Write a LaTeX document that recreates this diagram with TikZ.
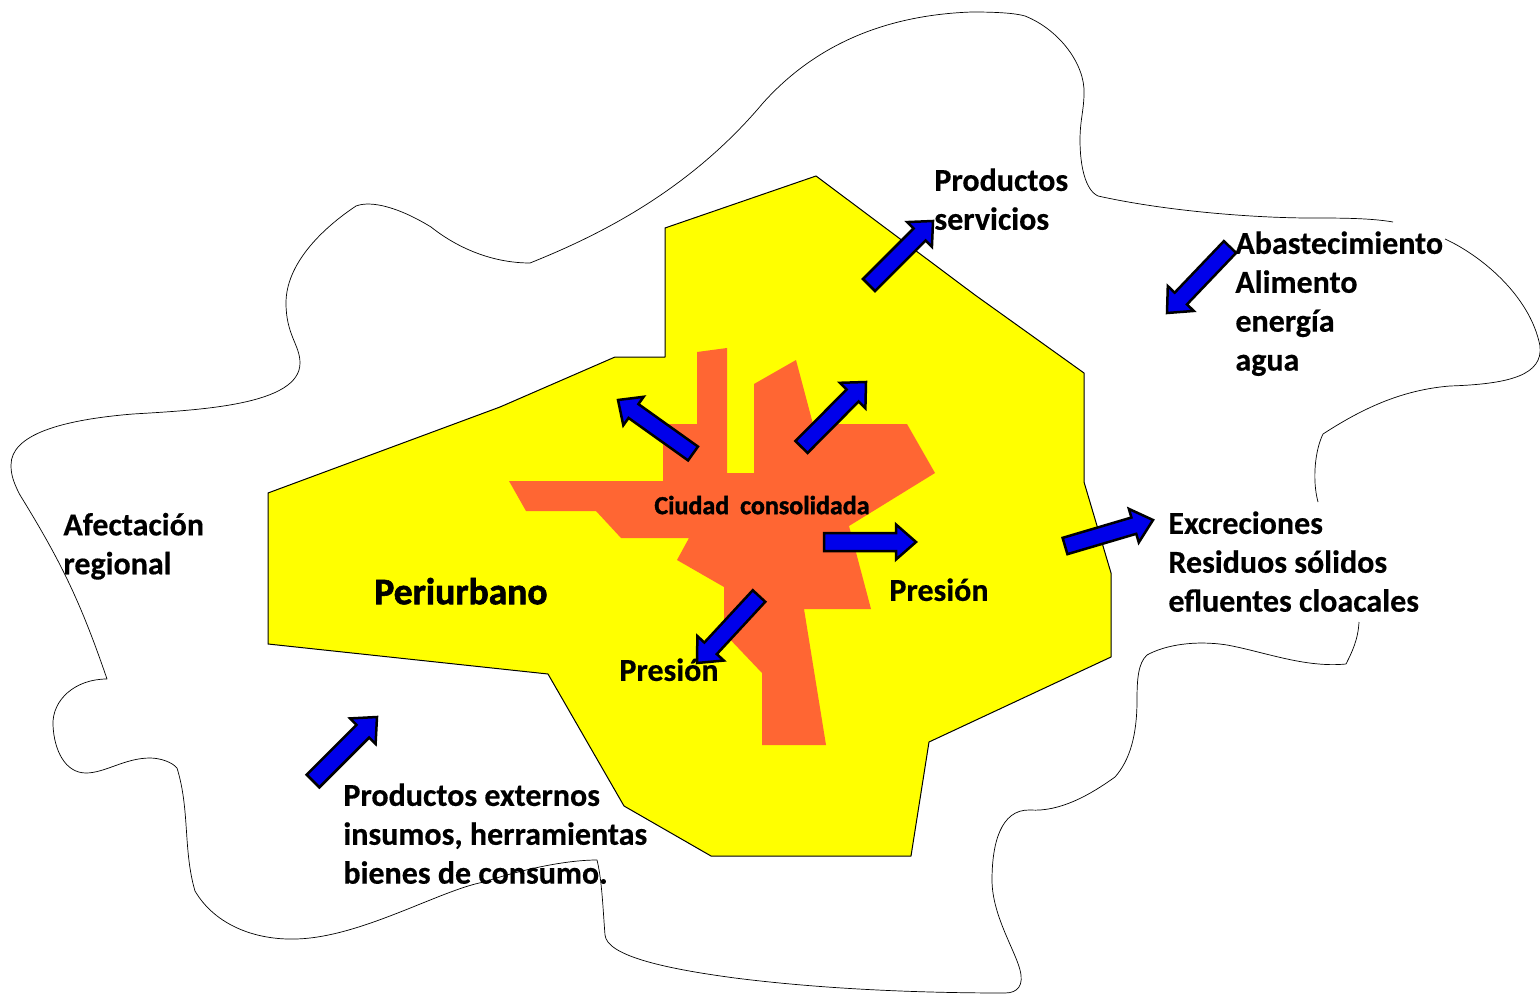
\documentclass[tikz,border=0pt]{standalone}
\usepackage{fontspec}
\setmainfont{Carlito}[BoldFeatures={FakeBold=0.4}]
\newfontfamily\heavyfont{Carlito}[BoldFeatures={FakeBold=1.6}]
\usetikzlibrary{calc}
\definecolor{cityorange}{HTML}{FF6633}
\definecolor{peri}{HTML}{FFFF00}
\definecolor{flowblue}{HTML}{0000EA}
\tikzset{
  outline/.style={draw=black,line width=0.35pt,line join=round},
  blockarrow/.style={draw=black,fill=flowblue,line width=1.25pt,line join=miter},
  lbl/.style={font=\bfseries\fontsize{16}{19.45}\selectfont,align=left,inner sep=0pt,anchor=north west,text=black},
}
\newcommand{\blockarr}[5]{%
  \coordinate (T) at #1; \coordinate (H) at #2;
  \coordinate (N) at ($(H)!#5*0.5pt!(T)$);
  \draw[blockarrow] ($(T)!#3*0.5pt!90:(H)$) -- ($(N)!#3*0.5pt!90:(H)$) -- ($(N)!#4*0.5pt!90:(H)$) -- (H)
    -- ($(N)!#4*0.5pt!-90:(H)$) -- ($(N)!#3*0.5pt!-90:(H)$) -- ($(T)!#3*0.5pt!-90:(H)$) -- cycle;
}
\begin{document}
\begin{tikzpicture}[x=0.5pt,y=-0.5pt]
\useasboundingbox (0,0) rectangle (1540,994);
\clip (0,0) rectangle (1540,994);
% regional outline (interrupted behind two of the labels)
\draw[outline] (1359,622) .. controls (1358,640) and (1352,652) .. (1346,664)
  .. controls (1305,668) and (1265,652) .. (1227,645)
  .. controls (1195,640) and (1165,645) .. (1147,655)
  .. controls (1138,663) and (1137,680) .. (1137,700)
  .. controls (1137,735) and (1130,760) .. (1115,777)
  .. controls (1090,795) and (1060,812) .. (1030,810)
  .. controls (1000,809) and (992,845) .. (992,880)
  .. controls (992,915) and (1015,950) .. (1020,970)
  .. controls (1024,985) and (1018,993) .. (1005,993)
  .. controls (930,993) and (830,990) .. (735,978)
  .. controls (660,968) and (607,955) .. (605,935)
  .. controls (603,910) and (602,880) .. (597,860)
  .. controls (565,860) and (520,870) .. (484,882)
  .. controls (440,890) and (360,938) .. (295,939)
  .. controls (255,940) and (215,925) .. (195,891)
  .. controls (183,850) and (190,810) .. (177,768)
  .. controls (172,762) and (160,758) .. (150,758)
  .. controls (125,758) and (105,773) .. (86,773)
  .. controls (65,773) and (54,750) .. (53,725)
  .. controls (52,700) and (75,679) .. (107,679)
  .. controls (80,600) and (60,560) .. (20,495)
  .. controls (12,480) and (11,472) .. (11,465)
  .. controls (11,435) and (60,420) .. (133,414)
  .. controls (200,410) and (300,405) .. (300,363)
  .. controls (300,345) and (286,335) .. (286,303)
  .. controls (286,265) and (320,230) .. (356,206)
  .. controls (372,200) and (400,208) .. (431,227)
  .. controls (460,250) and (495,263) .. (530,263)
  .. controls (600,235) and (690,190) .. (763,103)
  .. controls (815,45) and (885,15) .. (972,12)
  .. controls (995,12) and (1015,13) .. (1025,16)
  .. controls (1060,30) and (1085,65) .. (1084,93)
  .. controls (1084,110) and (1080,120) .. (1080,140)
  .. controls (1080,165) and (1085,190) .. (1098,196)
  .. controls (1170,212) and (1260,218) .. (1310,218)
  .. controls (1340,218) and (1370,218) .. (1393,222);
\draw[outline] (1445,239) .. controls (1480,255) and (1530,295) .. (1540,346)
  .. controls (1543,375) and (1510,384) .. (1450,386)
  .. controls (1400,390) and (1360,410) .. (1323,434)
  .. controls (1315,450) and (1312,480) .. (1318,502);
% periurban area
\draw[outline,fill=peri,line width=0.5pt] (816,176) -- (665,228) -- (665,357) -- (615,357) -- (500,407) -- (268,493) -- (268,644) -- (548,674) -- (624,806) -- (711,856) -- (911,856) -- (929,742) -- (1111,657) -- (1111,573) -- (1084,482) -- (1084,373) -- (975,295) -- cycle;
% consolidated city
\fill[cityorange] (697,352) -- (727,348) -- (727,473) -- (754,473) -- (754,384) -- (796,360) -- (813,424) -- (907,424) -- (935,473) -- (849,526) -- (871,609) -- (804,609) -- (826,745) -- (762,745) -- (762,673) -- (724,633) -- (724,587) -- (677,560) -- (689,538) -- (621,538) -- (596,511) -- (526,511) -- (509,481) -- (663,481) -- (663,424) -- (697,424) -- cycle;
% arrows
\blockarr{(869,285)}{(933,221)}{8.5}{17.5}{19}
\blockarr{(1230,247)}{(1167,313)}{8.5}{18}{20}
\blockarr{(693,453.5)}{(618,400)}{8.5}{17.5}{19}
\blockarr{(801.5,447)}{(866,382)}{8.5}{18}{19}
\blockarr{(824,542)}{(916,542)}{9}{17.5}{20}
\blockarr{(759,596)}{(697,663)}{8.5}{18}{20}
\blockarr{(1065,546)}{(1153,520)}{8.5}{17.5}{20}
\blockarr{(313,781)}{(377,717)}{9}{18}{20}
% labels
\node[lbl] (prod) at (934,168) {Productos\\servicios};
\node[lbl] (abas) at (1235,231) {Abastecimiento\\Alimento\\energía\\agua};
\node[lbl] (afec) at (63,512.5) {Afectación\\regional};
\node[lbl] (excr) at (1168,511) {Excreciones\\Residuos sólidos\\efluentes cloacales};
\node[lbl] (ext) at (343,783) {Productos externos\\insumos, herramientas\\bienes de consumo.};
\node[lbl] (pres1) at (889,578) {Presión};
\node[lbl] (pres2) at (619,658) {Presión};
\node[lbl,font=\heavyfont\bfseries\fontsize{18.75}{22}\selectfont] (periur) at (374,577.5) {Periurbano};
\node[lbl,font=\heavyfont\bfseries\fontsize{13}{16}\selectfont] (city) at (654,495.5) {Ciudad\hspace{2.5pt} consolidada};
\end{tikzpicture}
\end{document}
